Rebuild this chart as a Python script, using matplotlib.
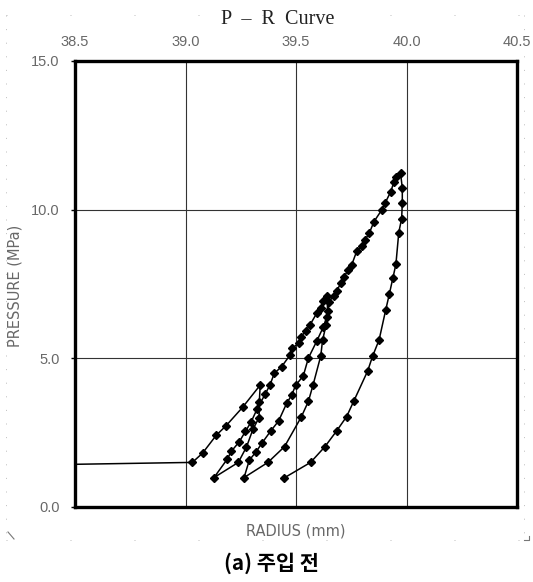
import matplotlib.pyplot as plt
from matplotlib.lines import Line2D

# load / unload / reload path (R in mm, P in MPa)
radius = [38.200, 39.031, 39.077, 39.140, 39.182, 39.258, 39.338,
          39.334, 39.333, 39.305, 39.276, 39.239, 39.129,
          39.188, 39.208, 39.243, 39.271, 39.296, 39.325, 39.360, 39.382,
          39.402, 39.435, 39.473, 39.483, 39.514, 39.523, 39.544, 39.563,
          39.594, 39.613, 39.624, 39.640,
          39.643, 39.636, 39.620, 39.612, 39.577, 39.556, 39.524, 39.448,
          39.373, 39.265,
          39.289, 39.319, 39.346, 39.387, 39.421, 39.458, 39.481, 39.498,
          39.533, 39.556, 39.594, 39.624, 39.639, 39.649, 39.670, 39.684,
          39.704, 39.717, 39.737, 39.752, 39.775, 39.797, 39.812, 39.832,
          39.853, 39.888, 39.903, 39.929, 39.943, 39.952, 39.973,
          39.981, 39.981, 39.978, 39.965, 39.952, 39.938, 39.922, 39.906,
          39.876, 39.847, 39.824, 39.762, 39.729, 39.684, 39.631, 39.566,
          39.447]
pressure = [1.40, 1.50, 1.81, 2.42, 2.72, 3.35, 4.10,
            3.53, 3.01, 2.61, 2.02, 1.50, 0.99,
            1.60, 1.88, 2.19, 2.54, 2.85, 3.31, 3.79, 4.10,
            4.50, 4.72, 5.11, 5.34, 5.52, 5.73, 5.92, 6.12,
            6.52, 6.68, 6.93, 7.11,
            6.59, 6.12, 5.60, 5.08, 4.10, 3.55, 3.03, 2.03,
            1.50, 0.99,
            1.58, 1.85, 2.15, 2.57, 2.89, 3.49, 3.77, 4.09,
            4.41, 5.01, 5.58, 6.06, 6.40, 6.90, 7.10, 7.27,
            7.54, 7.75, 7.97, 8.14, 8.61, 8.78, 8.98, 9.22,
            9.60, 9.99, 10.22, 10.61, 10.93, 11.09, 11.23,
            10.73, 10.22, 9.70, 9.23, 8.16, 7.69, 7.15, 6.63,
            5.62, 5.08, 4.57, 3.57, 3.04, 2.56, 2.03, 1.50,
            0.98]

x_ticks = [38.5, 39.0, 39.5, 40.0, 40.5]
y_ticks = [0.0, 5.0, 10.0, 15.0]

W, H = 533, 582
fig = plt.figure(figsize=(W / 100, H / 100), dpi=100)
ax = fig.add_axes([75 / W, 1 - 507 / H, (517 - 75) / W, (507 - 61) / H])

ax.plot(radius, pressure, color='black', lw=1.1, marker='D',
        markersize=3.8, zorder=3)

ax.set_xlim(38.5, 40.5)
ax.set_ylim(0, 15)
ax.xaxis.tick_top()
ax.set_xticks(x_ticks)
ax.set_xticklabels(['%.1f' % v for v in x_ticks])
ax.set_yticks(y_ticks)
ax.set_yticklabels(['%.1f' % v for v in y_ticks])
ax.tick_params(axis='x', length=0, pad=9, labelsize=10.5,
               labelcolor='#686868')
ax.tick_params(axis='y', length=3, width=1, direction='out', pad=8,
               labelsize=10.5, labelcolor='#686868')
for lab in ax.get_xticklabels() + ax.get_yticklabels():
    lab.set_family('Liberation Sans')

ax.grid(True, color='#333333', lw=0.8)
for sp in ax.spines.values():
    sp.set_linewidth(2.4)
    sp.set_color('black')
    sp.set_zorder(4)

fig.text(278 / W, 1 - 19.5 / H, 'P  –  R  Curve', family='Liberation Serif',
         fontsize=14.5, ha='center', va='center', color='#222222')
fig.text(296 / W, 1 - 531 / H, 'RADIUS (mm)', fontsize=10.5,
         color='#686868', ha='center', va='center')
fig.text(15 / W, 1 - 286 / H, 'PRESSURE (MPa)', fontsize=10.5,
         color='#686868', ha='center', va='center', rotation=90)
fig.text(271 / W, 1 - 563 / H, '(a) 주입 전', family=['Noto Sans CJK KR', 'DejaVu Sans'],
         fontsize=15, fontweight='bold', ha='center', va='center')

# faint dotted frame around the chart
dot = dict(color='#c0c0c0', lw=0.72, transform=fig.transFigure)
for xs, ys, gap in [([6, 6], [15, 538], 12.6), ([524, 524], [15, 538], 12.6),
                    ([6, 524], [15, 15], 63), ([6, 524], [540, 540], 63)]:
    fig.add_artist(Line2D([v / W for v in xs], [1 - v / H for v in ys],
                          linestyle=(0, (1, gap)), **dot))
fig.add_artist(Line2D([8 / W, 14 / W], [1 - 532 / H, 1 - 539 / H],
                      color='#777777', lw=0.8, transform=fig.transFigure))
fig.add_artist(Line2D([524 / W, 529 / W, 529 / W], [1 - 540 / H, 1 - 540 / H, 1 - 536 / H],
                      color='#777777', lw=0.8, transform=fig.transFigure))

fig.savefig('out.png', dpi=100)
